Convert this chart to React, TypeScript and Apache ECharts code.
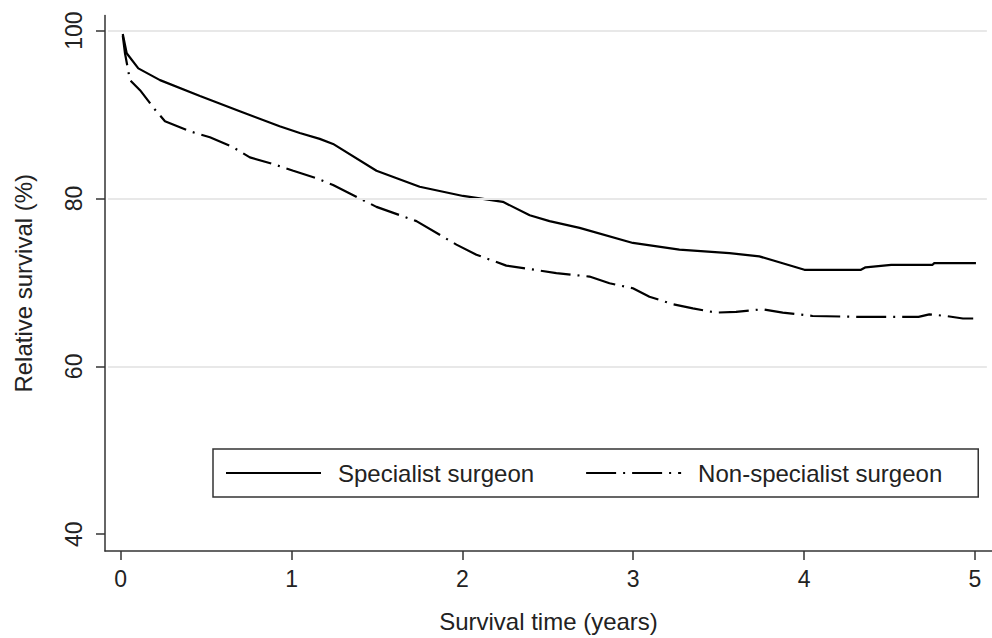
import React, { useEffect, useRef } from "react";
import * as echarts from "echarts";

const xTicks = [0, 1, 2, 3, 4, 5];
const yTicks = [40, 60, 80, 100];
const gridValues = [60, 80, 100];

const specX = [0.012, 0.035, 0.103, 0.23, 0.464, 0.697, 0.93, 1.048, 1.165, 1.243, 1.497, 1.75, 2.004, 2.237, 2.394, 2.51, 2.686, 2.998, 3.27, 3.563, 3.738, 3.855, 4.002, 4.333, 4.36, 4.51, 4.752, 4.762, 5.006];
const specY = [99.6, 97.3, 95.5, 94.1, 92.2, 90.4, 88.6, 87.8, 87.1, 86.5, 83.3, 81.4, 80.3, 79.6, 78.0, 77.3, 76.5, 74.7, 73.9, 73.5, 73.1, 72.4, 71.5, 71.5, 71.8, 72.1, 72.1, 72.3, 72.3];

const nonX = [0.012, 0.025, 0.054, 0.113, 0.2, 0.259, 0.405, 0.522, 0.658, 0.756, 0.892, 1.01, 1.146, 1.243, 1.497, 1.731, 1.965, 2.082, 2.257, 2.394, 2.55, 2.744, 2.861, 2.998, 3.095, 3.232, 3.349, 3.485, 3.602, 3.758, 3.875, 4.05, 4.32, 4.67, 4.733, 4.83, 4.93, 4.99];
const nonY = [99.4, 97.3, 94.1, 92.9, 90.6, 89.2, 88.0, 87.3, 86.1, 84.9, 84.1, 83.3, 82.4, 81.6, 79.0, 77.3, 74.5, 73.3, 72.0, 71.6, 71.1, 70.7, 69.9, 69.3, 68.3, 67.4, 66.9, 66.4, 66.5, 66.8, 66.4, 66.0, 65.9, 65.9, 66.2, 66.0, 65.7, 65.7];

const seriesNames = ["Specialist surgeon", "Non-specialist surgeon"];

const FONT = "'Liberation Sans', Arial, sans-serif";
const AXIS_COLOR = "#333";
const TEXT_COLOR = "#222";

export default function App() {
  const ref = useRef<HTMLDivElement>(null);
  useEffect(() => {
    if (!ref.current) return;
    const chart = echarts.init(ref.current, null, { renderer: "svg" });
    const xMin = -0.092;
    const xMax = 5.1;
    const option: any = {
      animation: false,
      backgroundColor: "#fff",
      textStyle: { fontFamily: FONT },
      grid: { left: 105, top: 15.5, width: 887, height: 542.5, containLabel: false },
      xAxis: {
        type: "value",
        min: xMin,
        max: xMax,
        name: "Survival time (years)",
        nameLocation: "middle",
        nameGap: 58,
        nameTextStyle: { fontSize: 24, color: TEXT_COLOR, fontFamily: FONT },
        axisLine: { show: true, onZero: false, lineStyle: { color: AXIS_COLOR, width: 1.5 } },
        axisTick: { show: true, length: 9, customValues: xTicks, lineStyle: { color: AXIS_COLOR, width: 1.5 } },
        axisLabel: { customValues: xTicks, fontSize: 23, color: TEXT_COLOR, margin: 16, fontFamily: FONT },
        splitLine: { show: false },
      },
      yAxis: {
        type: "value",
        min: 38,
        max: 101.8,
        name: "Relative survival (%)",
        nameLocation: "middle",
        nameGap: 70,
        nameRotate: 90,
        nameTextStyle: { fontSize: 24, color: TEXT_COLOR, fontFamily: FONT },
        axisLine: { show: true, onZero: false, lineStyle: { color: AXIS_COLOR, width: 1.5 } },
        axisTick: { show: true, length: 9, customValues: yTicks, lineStyle: { color: AXIS_COLOR, width: 1.5 } },
        axisLabel: { customValues: yTicks, rotate: 90, fontSize: 23, color: TEXT_COLOR, margin: 20, fontFamily: FONT },
        splitLine: { show: false },
      },
      legend: {
        left: 213,
        top: 449,
        orient: "horizontal",
        borderColor: AXIS_COLOR,
        borderWidth: 1.5,
        padding: [12, 36, 12, 12],
        itemWidth: 95,
        itemHeight: 20,
        itemGap: 51,
        itemStyle: { opacity: 0 },
        data: seriesNames,
        textStyle: { fontSize: 24, color: TEXT_COLOR, fontFamily: FONT, padding: [0, 0, 0, 12] },
      },
      series: [
        {
          name: seriesNames[0],
          type: "line",
          showSymbol: false,
          symbol: "none",
          data: specX.map((x, i) => [x, specY[i]]),
          lineStyle: { color: "#000", width: 2.2, type: "solid" },
          itemStyle: { color: "#000" },
          z: 3,
        },
        {
          name: seriesNames[1],
          type: "line",
          showSymbol: false,
          symbol: "none",
          data: nonX.map((x, i) => [x, nonY[i]]),
          lineStyle: { color: "#000", width: 2.2, type: [30, 7, 2, 7] },
          itemStyle: { color: "#000" },
          z: 3,
        },
        {
          name: "grid",
          type: "line",
          data: [],
          silent: true,
          markLine: {
            silent: true,
            symbol: "none",
            label: { show: false },
            lineStyle: { color: "#e8e8e8", width: 2, type: "solid" },
            data: gridValues.map((v) => [
              { coord: [-0.074, v] },
              { coord: [5.07, v] },
            ]),
          },
          z: 1,
        },
      ],
    };
    chart.setOption(option);
    return () => chart.dispose();
  }, []);
  return (
    <div
      ref={ref}
      style={{ position: "absolute", left: 0, top: 0, width: 992, height: 638 }}
    />
  );
}
